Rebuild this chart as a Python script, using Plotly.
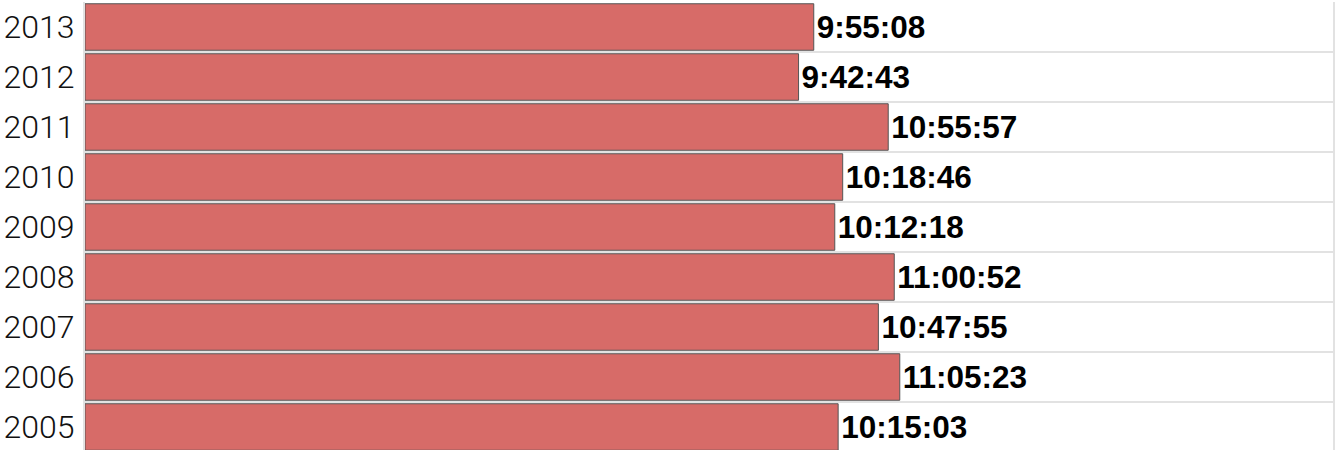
import plotly.graph_objects as go

years = ["2005", "2006", "2007", "2008", "2009", "2010", "2011", "2012", "2013"]
times = ["10:15:03", "11:05:23", "10:47:55", "11:00:52", "10:12:18",
         "10:18:46", "10:55:57", "9:42:43", "9:55:08"]


def to_seconds(t):
    h, m, s = (int(p) for p in t.split(":"))
    return h * 3600 + m * 60 + s


seconds = [to_seconds(t) for t in times]

fig = go.Figure(go.Bar(
    y=years,
    x=seconds,
    orientation="h",
    text=times,
    textposition="outside",
    cliponaxis=False,
    constraintext="none",
    textfont=dict(family="Liberation Sans, Arial, sans-serif", size=31.5, color="#000", weight="bold"),
    marker=dict(color="#d76b68", line=dict(color="#555555", width=1)),
    hoverinfo="skip",
))

fig.update_layout(
    width=1335,
    height=450,
    margin=dict(l=85, r=2, t=2, b=0, autoexpand=False),
    paper_bgcolor="white",
    plot_bgcolor="white",
    bargap=0.07,
    showlegend=False,
    xaxis=dict(range=[0, 61150], visible=False, showgrid=False, zeroline=False, automargin=False),
    yaxis=dict(
        type="category",
        categoryorder="array",
        categoryarray=years,
        range=[-0.46, 8.5],
        tickson="boundaries",
        automargin=False,
        showgrid=True,
        gridcolor="#e2e2e2",
        gridwidth=2,
        showline=True,
        mirror=True,
        linecolor="#e2e2e2",
        linewidth=2,
        ticks="",
        ticklabelstandoff=2,
        tickfont=dict(family="Roboto, Liberation Sans, sans-serif", size=32, color="#111", weight=300),
    ),
)

fig.write_html(
    "out.html",
    config={"displayModeBar": False},
    post_script="document.body.style.margin='0';document.body.style.overflow='hidden';",
)
